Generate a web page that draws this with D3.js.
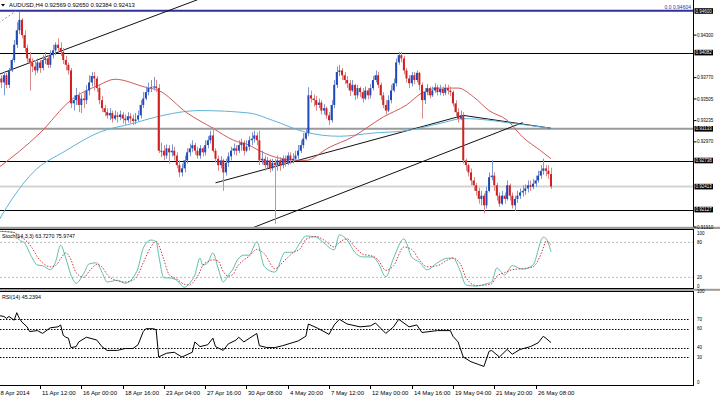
<!DOCTYPE html>
<html><head><meta charset="utf-8">
<script src="https://cdn.jsdelivr.net/npm/d3@7"></script>
<style>
body{margin:0;background:#fff}
svg{display:block}
text{font-family:"Liberation Sans",Arial,sans-serif}
</style>
</head><body>
<script>
// H4 candles, bar 0 = 8 Apr 2014
var closes = [.9376,.9371,.9380,.9368,.9386,.9399,.9418,.9436,.9449,.9430,
 .9414,.9401,.9396,.9391,.9386,.9396,.9389,.9399,.9401,.9393,
 .9405,.9411,.9418,.9414,.9409,.9399,.9393,.9386,.9345,.9349,
 .9355,.9343,.9351,.9349,.9361,.9371,.9379,.9376,.9364,.9349,
 .9339,.9334,.9330,.9333,.9326,.9330,.9328,.9331,.9326,.9324,
 .9329,.9326,.9323,.9325,.9330,.9343,.9351,.9359,.9364,.9365,
 .9366,.9364,.9286,.9286,.9280,.9289,.9284,.9286,.9280,.9268,
 .9259,.9264,.9274,.9284,.9289,.9293,.9286,.9280,.9289,.9284,
 .9293,.9299,.9305,.9286,.9276,.9268,.9274,.9259,.9271,.9279,
 .9286,.9289,.9286,.9293,.9296,.9286,.9291,.9299,.9301,.9305,
 .9299,.9274,.9276,.9268,.9274,.9264,.9271,.9268,.9274,.9268,
 .9276,.9271,.9280,.9274,.9276,.9280,.9286,.9293,.9301,.9308,
 .9355,.9351,.9349,.9343,.9346,.9336,.9339,.9330,.9324,.9343,
 .9368,.9384,.9386,.9380,.9374,.9370,.9361,.9368,.9355,.9364,
 .9359,.9351,.9361,.9355,.9364,.9374,.9380,.9368,.9355,.9343,
 .9336,.9349,.9361,.9370,.9396,.9405,.9401,.9386,.9376,.9370,
 .9380,.9374,.9383,.9368,.9349,.9359,.9364,.9355,.9361,.9365,
 .9359,.9363,.9358,.9364,.9361,.9359,.9345,.9334,.9326,.9330,
 .9274,.9268,.9259,.9249,.9243,.9236,.9226,.9230,.9218,.9236,
 .9253,.9255,.9243,.9230,.9220,.9230,.9226,.9243,.9230,.9218,
 .9226,.9230,.9234,.9236,.9239,.9243,.9241,.9245,.9249,.9255,
 .9261,.9264,.9261,.92569,.92413];
var opens = [.9374,.9376,.9371,.9380,.9368,.9386,.9399,.9418,.9436,.9449,
 .9430,.9414,.9401,.9396,.9391,.9386,.9396,.9389,.9399,.9401,
 .9393,.9405,.9411,.9418,.9414,.9409,.9399,.9393,.9386,.9345,
 .9349,.9355,.9343,.9351,.9349,.9361,.9371,.9379,.9376,.9364,
 .9349,.9339,.9334,.9330,.9333,.9326,.9330,.9328,.9331,.9326,
 .9324,.9329,.9326,.9323,.9325,.9330,.9343,.9351,.9359,.9364,
 .9365,.9366,.9364,.9286,.9286,.9280,.9289,.9284,.9286,.9280,
 .9268,.9259,.9264,.9274,.9284,.9289,.9293,.9286,.9280,.9289,
 .9284,.9293,.9299,.9305,.9286,.9276,.9268,.9274,.9259,.9271,
 .9279,.9286,.9289,.9286,.9293,.9296,.9286,.9291,.9299,.9301,
 .9305,.9299,.9274,.9276,.9268,.9274,.9264,.9271,.9268,.9274,
 .9268,.9276,.9271,.9280,.9274,.9276,.9280,.9286,.9293,.9301,
 .9308,.9355,.9351,.9349,.9343,.9346,.9336,.9339,.9330,.9324,
 .9343,.9368,.9384,.9386,.9380,.9374,.9370,.9361,.9368,.9355,
 .9364,.9359,.9351,.9361,.9355,.9364,.9374,.9380,.9368,.9355,
 .9343,.9336,.9349,.9361,.9370,.9396,.9405,.9401,.9386,.9376,
 .9370,.9380,.9374,.9383,.9368,.9349,.9359,.9364,.9355,.9361,
 .9365,.9359,.9363,.9358,.9364,.9361,.9359,.9345,.9334,.9326,
 .9330,.9274,.9268,.9259,.9249,.9243,.9236,.9226,.9230,.9218,
 .9236,.9253,.9255,.9243,.9230,.9220,.9230,.9226,.9243,.9230,
 .9218,.9226,.9230,.9234,.9236,.9239,.9243,.9241,.9245,.9249,
 .9255,.9261,.9264,.9261,.92569];
var highs = [.9384,.9380,.9384,.9383,.9389,.9401,.9424,.9446,.9459,.9451,
 .9436,.9418,.9409,.9401,.9399,.9401,.9399,.9405,.9409,.9405,
 .9411,.9418,.9421,.9426,.9421,.9414,.9404,.9396,.9389,.9355,
 .9364,.9359,.9356,.9359,.9368,.9380,.9384,.9384,.9379,.9368,
 .9354,.9343,.9339,.9339,.9336,.9336,.9334,.9336,.9334,.9331,
 .9334,.9333,.9331,.9333,.9336,.9349,.9359,.9366,.9371,.9374,
 .9378,.9374,.9369,.9296,.9293,.9294,.9293,.9294,.9291,.9284,
 .9274,.9270,.9280,.9289,.9295,.9299,.9296,.9291,.9293,.9291,
 .9299,.9304,.9311,.9315,.9289,.9280,.9279,.9276,.9276,.9284,
 .9291,.9295,.9293,.9299,.9301,.9299,.9299,.9304,.9309,.9311,
 .9309,.9311,.9286,.9280,.9278,.9276,.9276,.9276,.9280,.9278,
 .9280,.9280,.9284,.9284,.9283,.9286,.9293,.9299,.9308,.9314,
 .9365,.9361,.9356,.9354,.9351,.9349,.9344,.9341,.9334,.9349,
 .9374,.9391,.9393,.9389,.9384,.9379,.9374,.9374,.9369,.9368,
 .9366,.9364,.9366,.9364,.9369,.9379,.9386,.9384,.9371,.9359,
 .9349,.9355,.9368,.9376,.9401,.9409,.9409,.9404,.9389,.9380,
 .9384,.9384,.9386,.9384,.9371,.9364,.9369,.9366,.9366,.9370,
 .9368,.9368,.9366,.9369,.9368,.9366,.9361,.9349,.9339,.9336,
 .9334,.9276,.9270,.9264,.9253,.9246,.9240,.9236,.9233,.9241,
 .9259,.9274,.9259,.9246,.9234,.9236,.9234,.9249,.9245,.9234,
 .9230,.9236,.9239,.9243,.9244,.9249,.9249,.9251,.9255,.9261,
 .9268,.9276,.9268,.9268,.92650];
var lows = [.9369,.9364,.9355,.9364,.9364,.9384,.9396,.9414,.9431,.9426,
 .9409,.9396,.9361,.9384,.9380,.9383,.9383,.9386,.9394,.9389,
 .9389,.9401,.9405,.9409,.9404,.9394,.9386,.9381,.9339,.9336,
 .9343,.9334,.9333,.9339,.9344,.9355,.9366,.9361,.9359,.9344,
 .9334,.9329,.9326,.9324,.9321,.9324,.9321,.9324,.9320,.9318,
 .9321,.9320,.9318,.9319,.9323,.9326,.9339,.9349,.9355,.9359,
 .9361,.9359,.9283,.9278,.9274,.9276,.9270,.9279,.9274,.9264,
 .9253,.9254,.9259,.9270,.9279,.9284,.9281,.9276,.9276,.9279,
 .9280,.9289,.9295,.9284,.9271,.9261,.9264,.9236,.9255,.9266,
 .9274,.9281,.9280,.9283,.9286,.9280,.9284,.9286,.9293,.9296,
 .9293,.9268,.9269,.9261,.9264,.9259,.9261,.9195,.9261,.9261,
 .9264,.9266,.9268,.9269,.9270,.9274,.9276,.9283,.9289,.9299,
 .9304,.9346,.9341,.9336,.9339,.9331,.9331,.9326,.9318,.9321,
 .9339,.9364,.9379,.9374,.9369,.9364,.9354,.9359,.9349,.9351,
 .9353,.9346,.9349,.9350,.9351,.9361,.9371,.9364,.9349,.9339,
 .9331,.9334,.9345,.9359,.9366,.9393,.9396,.9381,.9371,.9364,
 .9366,.9369,.9371,.9361,.9326,.9344,.9355,.9351,.9353,.9358,
 .9355,.9355,.9354,.9355,.9356,.9354,.9341,.9329,.9321,.9324,
 .9270,.9261,.9254,.9243,.9236,.9230,.9220,.9218,.9208,.9214,
 .9234,.9249,.9236,.9224,.9216,.9218,.9220,.9224,.9224,.9214,
 .9211,.9221,.9226,.9229,.9231,.9234,.9236,.9238,.9241,.9246,
 .9251,.9256,.9254,.9251,.92384];

// moving averages read at selected bars
var maFastBars = [0,16,28,39,45,57,62,73,83,91,97,101,110,119,128,137,149,158,164,171,178,184,190,197,203,210,214];
var maFast = [.9265,.9308,.9349,.9368,.9375,.9365,.9361,.9333,.9314,.9299,.9293,.9286,.9276,.9274,.9290,.9303,.9328,.9343,.9358,.9364,.9364,.9353,.9336,.9324,.9303,.9286,.9276];
var maSlowBars = [0,3,13,26,39,52,61,78,97,106,119,132,145,158,171,180,190,197,214];
var maSlow = [.9199,.9215,.9258,.9286,.9309,.9320,.9328,.9336,.9333,.9324,.9309,.9304,.9308,.9311,.9320,.9326,.9324,.9321,.9314];

// Stochastic %K and %D
var stochBars = [0,6,8,10,13,15,17,20,22,24,26,28,30,33,35,38,40,42,46,49,52,54,56,59,61,62,64,66,69,72,74,76,78,79,81,83,85,87,89,91,92,95,97,100,103,107,111,114,117,119,123,126,130,132,135,138,141,145,147,150,153,157,160,163,166,170,174,176,179,181,185,189,191,193,196,199,203,207,211,212,214];
var stochK = [99,97,84,79,53,41,40,33,46,75,53,24,10,27,43,45,29,12,15,10,19,36,70,84,81,58,19,19,15,3,10,24,53,41,45,62,36,12,24,36,46,58,58,81,38,29,63,63,81,91,89,79,67,93,84,63,55,55,45,21,53,86,55,46,33,45,53,53,29,7,5,9,12,36,24,40,34,41,89,87,63.727];
var stochD = [99,97,90,85,70,55,45,38,40,52,62,50,28,20,30,42,38,25,14,12,15,25,45,72,82,75,50,25,17,8,7,15,30,40,47,50,48,30,22,26,35,50,56,68,60,35,50,62,70,85,90,84,72,80,86,72,60,56,50,32,40,72,68,50,38,40,50,53,42,20,6,7,9,22,28,33,35,38,70,82,75.975];

// RSI(14)
var rsiBars = [0,2,3,4,6,7,8,9,11,12,15,17,20,23,24,25,26,27,28,30,31,34,38,40,42,46,49,52,54,56,57,60,61,62,65,68,71,75,76,78,81,83,84,87,89,92,93,95,100,101,104,107,110,116,119,120,124,128,130,132,135,140,144,146,150,153,155,159,162,164,170,175,176,178,180,183,186,188,189,190,191,194,197,199,202,206,209,211,212,214];
var rsiVals = [74,73,71,73,69,77,71,67,62,57,58,55,61,62,64,53,51,50,40,41,46,51,48,41,37,37,39,39,43,57,60,60,59,30,34,35,30,35,46,41,43,50,41,37,44,48,51,46,55,42,40,40,42,47,52,65,60,54,64,70,65,62,63,66,55,62,70,62,64,56,58,58,52,46,30,25,22,20,28,36,37,30,38,33,38,41,45,52,50,45.24];

var priceTicks = [0.94300,0.93770,0.93505,0.93235,0.92970,0.91910];
var markedLevels = [0.94600,0.94082,0.93133,0.92738,0.92413,0.92127];
var timeLabels = ["8 Apr 2014","11 Apr 12:00","16 Apr 00:00","18 Apr 16:00","23 Apr 04:00","27 Apr 16:00","30 Apr 08:00","4 May 20:00","7 May 12:00","12 May 00:00","14 May 16:00","19 May 04:00","21 May 20:00","26 May 08:00"];

var W = 720, H = 398, axisX = 693.5;
var svg = d3.select('body').append('svg').attr('width', W).attr('height', H);
svg.append('rect').attr('width', W).attr('height', H).attr('fill', '#fff');

var x = d3.scaleLinear().domain([0, 214]).range([-1.3, 551]);
var y = d3.scaleLinear().domain([0.9191, 0.946]).range([227, 11]);
var ys = d3.scaleLinear().domain([0, 100]).range([289, 230.7]);
var yr = d3.scaleLinear().domain([0, 100]).range([385.3, 291]);

var defs = svg.append('defs');
function clip(id, y0, y1) {
  defs.append('clipPath').attr('id', id).append('rect')
    .attr('x', 0).attr('y', y0).attr('width', axisX).attr('height', y1 - y0);
}
clip('cMain', 0, 227); clip('cSto', 230, 288); clip('cRsi', 292, 385);

var main = svg.append('g').attr('clip-path', 'url(#cMain)');

// horizontal levels
main.append('line').attr('x1', 0).attr('x2', axisX).attr('y1', y(0.92413)).attr('y2', y(0.92413))
  .attr('stroke', '#d4d4d4').attr('stroke-width', 2);
main.append('line').attr('x1', 0).attr('x2', axisX).attr('y1', y(0.93133)).attr('y2', y(0.93133))
  .attr('stroke', '#9a9a9a').attr('stroke-width', 2);
[0.94082, 0.92738, 0.92127].forEach(function(v) {
  main.append('line').attr('x1', 0).attr('x2', axisX).attr('y1', Math.round(y(v)) + 0.5).attr('y2', Math.round(y(v)) + 0.5)
    .attr('stroke', '#000').attr('stroke-width', 1);
});
main.append('line').attr('x1', 0).attr('x2', axisX).attr('y1', y(0.94604)).attr('y2', y(0.94604))
  .attr('stroke', '#30309a').attr('stroke-width', 2);
main.append('line').attr('x1', x(0)).attr('y1', y(0.9445)).attr('x2', x(6.7)).attr('y2', y(0.9460))
  .attr('stroke', '#999').attr('stroke-dasharray', '2,2');

// trend lines
var trend = [[0, .9381, 77, .9474], [96, .9187, 203, .9321], [84, .9246, 180, .9330], [180, .9330, 214, .9314]];
trend.forEach(function(t) {
  main.append('line').attr('x1', x(t[0])).attr('y1', y(t[1])).attr('x2', x(t[2])).attr('y2', y(t[3]))
    .attr('stroke', '#111').attr('stroke-width', 1);
});

// moving averages
var lineFn = function(bars, sc, curve) {
  return d3.line().x(function(d, i) { return x(bars[i]); }).y(function(d) { return sc(d); }).curve(curve || d3.curveMonotoneX);
};
main.append('path').attr('d', lineFn(maSlowBars, y)(maSlow)).attr('fill', 'none').attr('stroke', '#5fb2dc').attr('stroke-width', 1);
main.append('path').attr('d', lineFn(maFastBars, y)(maFast)).attr('fill', 'none').attr('stroke', '#d05a5a').attr('stroke-width', 1);

// candles
var idx = d3.range(closes.length);
main.selectAll('line.wick').data(idx).enter().append('line')
  .attr('x1', function(i) { return Math.round(x(i)) + 0.5; })
  .attr('x2', function(i) { return Math.round(x(i)) + 0.5; })
  .attr('y1', function(i) { return y(highs[i]); })
  .attr('y2', function(i) { return y(lows[i]); })
  .attr('stroke', function(i) { return closes[i] >= opens[i] ? '#7d96cf' : '#d98a8a'; })
  .attr('stroke-width', 1);
main.selectAll('rect.body').data(idx).enter().append('rect')
  .attr('x', function(i) { return x(i) - 1; })
  .attr('width', 2)
  .attr('y', function(i) { return y(Math.max(opens[i], closes[i])); })
  .attr('height', function(i) { return Math.max(1, Math.abs(y(opens[i]) - y(closes[i]))); })
  .attr('fill', function(i) { return closes[i] >= opens[i] ? '#1f48b8' : '#d21f1f'; });

svg.append('text').attr('x', 691).attr('y', 8.5).attr('text-anchor', 'end')
  .attr('font-size', 5).attr('fill', '#30309a').text('0.0 0.94604');

// title
svg.append('path').attr('d', 'M1,4 L5,4 L3,6.5 Z').attr('fill', '#000');
svg.append('text').attr('x', 9).attr('y', 7.3).attr('font-size', 5.9).attr('fill', '#000')
  .text('AUDUSD,H4  0.92569 0.92650 0.92384 0.92413');

// stochastic panel
var sto = svg.append('g').attr('clip-path', 'url(#cSto)');
[80, 20].forEach(function(v) {
  sto.append('line').attr('x1', 0).attr('x2', axisX).attr('y1', ys(v)).attr('y2', ys(v))
    .attr('stroke', '#b8b8b8').attr('stroke-dasharray', '2,2');
});
sto.append('path').attr('d', lineFn(stochBars, ys)(stochK)).attr('fill', 'none').attr('stroke', '#5fbfae').attr('stroke-width', 1);
sto.append('path').attr('d', lineFn(stochBars, ys)(stochD)).attr('fill', 'none').attr('stroke', '#d03a3a').attr('stroke-width', 1).attr('stroke-dasharray', '1.5,1.5');
svg.append('text').attr('x', 2).attr('y', 238).attr('font-size', 5.3).text('Stoch(14,3,3) 63.7270 75.9747');

// RSI panel
var rsi = svg.append('g').attr('clip-path', 'url(#cRsi)');
[70, 60, 40, 30].forEach(function(v) {
  rsi.append('line').attr('x1', 0).attr('x2', 690).attr('y1', Math.round(yr(v)) + 0.5).attr('y2', Math.round(yr(v)) + 0.5)
    .attr('stroke', '#000').attr('stroke-dasharray', '1.5,1.5');
});
rsi.append('path').attr('d', lineFn(rsiBars, yr, d3.curveLinear)(rsiVals)).attr('fill', 'none').attr('stroke', '#000').attr('stroke-width', 1);
svg.append('text').attr('x', 2).attr('y', 299).attr('font-size', 5.3).text('RSI(14) 45.2394');

// panel frames
svg.append('rect').attr('x', 0).attr('y', 226.8).attr('width', W).attr('height', 2.2).attr('fill', '#9c9c9c');
svg.append('rect').attr('x', 0).attr('y', 288.8).attr('width', W).attr('height', 2).attr('fill', '#9c9c9c');
[229.5, 288.5, 291.5, 385.5].forEach(function(v) {
  svg.append('line').attr('x1', 0).attr('x2', axisX).attr('y1', v).attr('y2', v).attr('stroke', '#000');
});
svg.append('line').attr('x1', axisX).attr('x2', axisX).attr('y1', 0).attr('y2', 226.8).attr('stroke', '#000');
svg.append('line').attr('x1', axisX).attr('x2', axisX).attr('y1', 229).attr('y2', 288.8).attr('stroke', '#000');
svg.append('line').attr('x1', axisX).attr('x2', axisX).attr('y1', 291).attr('y2', 386).attr('stroke', '#000');

// right price axis
var ax = svg.append('g');
priceTicks.forEach(function(v) {
  ax.append('line').attr('x1', axisX).attr('x2', axisX + 3).attr('y1', y(v)).attr('y2', y(v)).attr('stroke', '#000');
  ax.append('text').attr('x', 697).attr('y', y(v) + 1.6).attr('font-size', 4.5).text(v.toFixed(5));
});
markedLevels.forEach(function(v) {
  ax.append('rect').attr('x', 694.5).attr('y', y(v) - 2.8).attr('width', 18.5).attr('height', 5.6).attr('fill', '#000');
  ax.append('text').attr('x', 695.5).attr('y', y(v) + 1.6).attr('font-size', 4.5).attr('fill', '#fff').text(v.toFixed(5));
});
[[100, 234.5], [80, 243.8], [20, 278.8], [0, 287.5]].forEach(function(d) {
  ax.append('text').attr('x', 697).attr('y', d[1]).attr('font-size', 4.5).text(d[0]);
});
[100, 70, 60, 40, 30, 0].forEach(function(v) {
  ax.append('text').attr('x', 697).attr('y', Math.min(yr(v) + 1.6, 384)).attr('font-size', 4.5).text(v);
});

// time axis
timeLabels.forEach(function(t, k) {
  var tx = Math.round(x(k * 16)) + 0.5;
  svg.append('line').attr('x1', tx).attr('x2', tx).attr('y1', 385.5).attr('y2', 389).attr('stroke', '#000');
  svg.append('text').attr('x', k === 0 ? 0.5 : tx + 1.5).attr('y', 394.5).attr('font-size', 6).text(t);
});
</script>
</body></html>
